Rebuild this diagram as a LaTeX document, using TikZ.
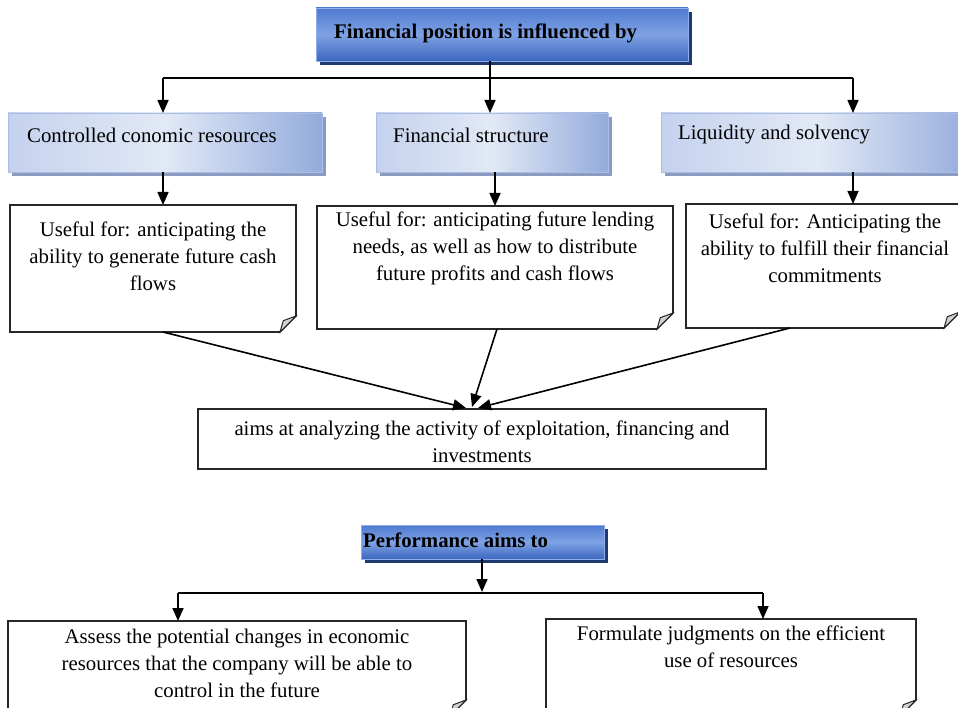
\documentclass[tikz,border=0pt]{standalone}
\usepackage{fontspec}
\setmainfont{Liberation Serif}
\usetikzlibrary{arrows.meta,calc}
\definecolor{titletop}{HTML}{4E7AD0}
\definecolor{titlemid}{HTML}{7FA2E4}
\definecolor{titlebot}{HTML}{3B67C0}
\definecolor{titleedge}{HTML}{8EADEA}
\definecolor{titleshadow}{HTML}{1E3A70}
\definecolor{subleft}{HTML}{C5D2EE}
\definecolor{submid}{HTML}{E2E9F6}
\definecolor{subright}{HTML}{93ABDC}
\definecolor{subedge}{HTML}{A9BDE5}
\definecolor{subshadow}{HTML}{8B9CC0}
\definecolor{foldgray}{HTML}{D2D2D2}
\newcommand{\foldframe}[1]{%
  \draw[boxline] (#1.north west) -- (#1.north east) -- ([yshift=16pt]#1.south east)
    -- ([xshift=-16pt]#1.south east) -- (#1.south west) -- cycle;
  \draw[boxline, fill=foldgray, line width=1pt] ([xshift=-16pt]#1.south east)
    -- ([xshift=-12.7pt,yshift=11.3pt]#1.south east) -- ([yshift=16pt]#1.south east) -- cycle;}
\begin{document}
\begin{tikzpicture}[x=1pt,y=-1pt,
  font=\fontsize{20.8}{27}\selectfont,
  frame/.style={anchor=north west, inner sep=0pt, outer sep=0pt},
  boxline/.style={line width=1.6pt, black!85},
  arr/.style={line width=1.6pt, -{Triangle[length=13pt,width=11pt]}},
  plain/.style={line width=1.6pt},
  titleshade/.style={top color=titletop, bottom color=titlebot, middle color=titlemid, draw=titleedge, line width=0.8pt},
  subshade/.style={left color=subleft, right color=subright, middle color=submid, draw=subedge, line width=0.8pt},
  txt/.style={align=center, inner sep=0pt}]
\useasboundingbox (0,0) rectangle (958,708);
\clip (0,0) rectangle (958,708);
\fill[white] (0,0) rectangle (958,708);

% frames
\node[frame, minimum width=372, minimum height=53] (t) at (316,8) {};
\node[frame, minimum width=314, minimum height=59] (r2a) at (8,113) {};
\node[frame, minimum width=232, minimum height=59] (r2b) at (376,113) {};
\node[frame, minimum width=314, minimum height=59] (r2c) at (661,113) {};
\node[frame, minimum width=286, minimum height=127] (r3a) at (10,205) {};
\node[frame, minimum width=356, minimum height=123] (r3b) at (317,206) {};
\node[frame, minimum width=274, minimum height=124] (r3c) at (686,204) {};
\node[frame, minimum width=568, minimum height=60] (m) at (198,409) {};
\node[frame, minimum width=243, minimum height=34] (p) at (361,525) {};
\node[frame, minimum width=458, minimum height=95] (ba) at (8,621) {};
\node[frame, minimum width=370, minimum height=97] (bb) at (546,619) {};

% shadows
\fill[titleshadow] ($(t.north west)+(4,4)$) rectangle ($(t.south east)+(4,4)$);
\fill[titleshadow] ($(p.north west)+(4,4)$) rectangle ($(p.south east)+(4,4)$);
\foreach \b in {r2a,r2b,r2c}{
  \fill[subshadow] ($(\b.north west)+(4,4)$) rectangle ($(\b.south east)+(4,4)$);}

% shaded boxes
\path[titleshade] (t.north west) rectangle (t.south east);
\path[titleshade] (p.north west) rectangle (p.south east);
\foreach \b in {r2a,r2b,r2c}{
  \path[subshade] (\b.north west) rectangle (\b.south east);}

% folded boxes
\foldframe{r3a}
\foldframe{r3b}
\foldframe{r3c}
\foldframe{ba}
\foldframe{bb}
\draw[boxline] (m.north west) rectangle (m.south east);

% texts
\node[anchor=west, inner sep=0pt, font=\fontsize{20.8}{27}\selectfont\bfseries] (tt) at (334,33) {Financial position is influenced by};
\node[anchor=west, inner sep=0pt] (ta) at (27,135) {Controlled conomic resources};
\node[anchor=west, inner sep=0pt] (tb) at (393,135) {Financial structure};
\node[anchor=west, inner sep=0pt] (tc) at (678,135) {Liquidity and solvency};
\node[txt] (ua) at (153,256) {Useful for: anticipating the\\ability to generate future cash\\flows};
\node[txt] (ub) at (495,248) {Useful for: anticipating future lending\\needs, as well as how to distribute\\future profits and cash flows};
\node[txt] (uc) at (825,248) {Useful for: Anticipating the\\ability to fulfill their financial\\commitments};
\node[txt] (mt) at (482,442) {aims at analyzing the activity of exploitation, financing and\\investments};
\node[anchor=west, inner sep=0pt, font=\fontsize{20.8}{27}\selectfont\bfseries] (pt) at (363,540) {Performance aims to};
\node[txt] (bat) at (237,663) {Assess the potential changes in economic\\resources that the company will be able to\\control in the future};
\node[txt] (bbt) at (731,647) {Formulate judgments on the efficient\\use of resources};

% connectors top
\coordinate (busm) at (490,78);
\coordinate (busl) at (163,78);
\coordinate (busr) at (853,78);
\draw[plain] (busl) -- (busr);
\draw[arr] (t.south -| busm) -- (busm |- r2b.north);
\draw[arr] (busl) -- (busl |- r2a.north);
\draw[arr] (busr) -- (busr |- r2c.north);

\coordinate (cl) at (163,0);
\coordinate (cm) at (495,0);
\coordinate (cr) at (853,0);
\draw[arr] (cl |- r2a.south) -- (cl |- r3a.north);
\draw[arr] (cm |- r2b.south) -- (cm |- r3b.north);
\draw[arr] (cr |- r2c.south) -- (cr |- r3c.north);

\draw[arr] ([xshift=10pt]r3a.south) -- ([xshift=-16pt,yshift=1pt]m.north);
\draw[arr] ([xshift=2pt]r3b.south) -- ([xshift=-10pt,yshift=2pt]m.north);
\draw[arr] ([xshift=-33pt]r3c.south) -- ([xshift=-4pt,yshift=1pt]m.north);

% bottom
\coordinate (bus2) at (482,593);
\coordinate (bl) at (178,593);
\coordinate (br) at (763,593);
\draw[plain] (bl) -- (br);
\draw[arr] (p.south -| bus2) -- ([yshift=1pt]bus2);
\draw[arr] (bl) -- (bl |- ba.north);
\draw[arr] (br) -- (br |- bb.north);
\end{tikzpicture}
\end{document}
